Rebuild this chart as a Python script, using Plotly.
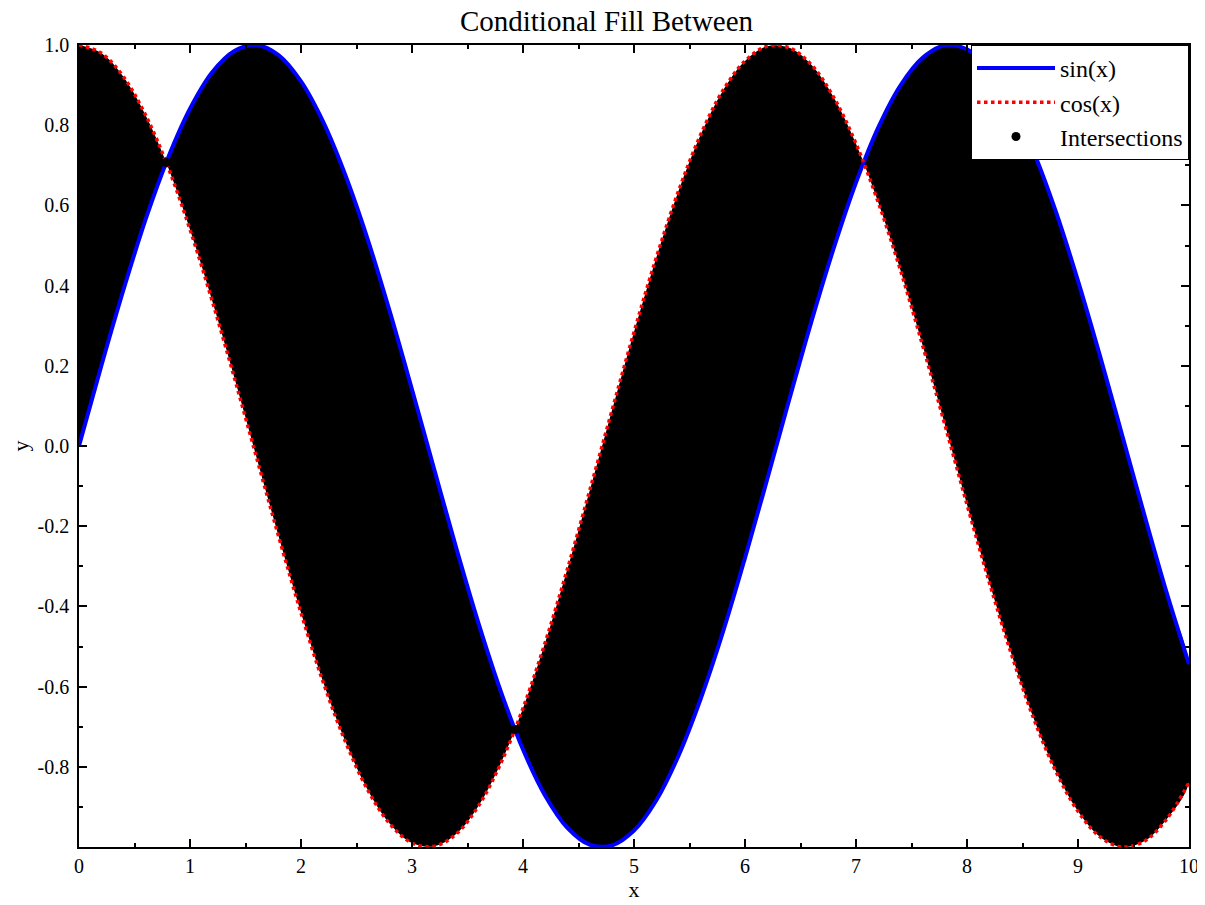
import plotly.graph_objects as go

# valeurs (pas de 0.2)
x = [0.0, 0.2, 0.4, 0.6, 0.8, 1.0, 1.2, 1.4, 1.6, 1.8,
     2.0, 2.2, 2.4, 2.6, 2.8, 3.0, 3.2, 3.4, 3.6, 3.8,
     4.0, 4.2, 4.4, 4.6, 4.8, 5.0, 5.2, 5.4, 5.6, 5.8,
     6.0, 6.2, 6.4, 6.6, 6.8, 7.0, 7.2, 7.4, 7.6, 7.8,
     8.0, 8.2, 8.4, 8.6, 8.8, 9.0, 9.2, 9.4, 9.6, 9.8, 10.0]
sin_y = [0.000, 0.199, 0.389, 0.565, 0.717, 0.841, 0.932, 0.985, 1.000, 0.974,
         0.909, 0.808, 0.675, 0.516, 0.335, 0.141, -0.058, -0.256, -0.443, -0.612,
         -0.757, -0.872, -0.952, -0.994, -0.996, -0.959, -0.884, -0.773, -0.631, -0.465,
         -0.279, -0.083, 0.117, 0.312, 0.494, 0.657, 0.794, 0.899, 0.968, 0.999,
         0.989, 0.941, 0.855, 0.734, 0.585, 0.412, 0.223, 0.025, -0.174, -0.367, -0.544]
cos_y = [1.000, 0.980, 0.921, 0.825, 0.697, 0.540, 0.362, 0.170, -0.029, -0.227,
         -0.416, -0.589, -0.737, -0.857, -0.942, -0.990, -0.998, -0.967, -0.897, -0.791,
         -0.654, -0.490, -0.307, -0.112, 0.087, 0.284, 0.469, 0.635, 0.776, 0.886,
         0.960, 0.997, 0.993, 0.950, 0.869, 0.754, 0.608, 0.439, 0.251, 0.054,
         -0.146, -0.339, -0.519, -0.679, -0.811, -0.911, -0.975, -1.000, -0.985, -0.930, -0.839]
inter_x = [0.785, 3.927]
inter_y = [0.707, -0.707]

y_tickvals = [1.0, 0.8, 0.6, 0.4, 0.2, 0.0, -0.2, -0.4, -0.6, -0.8]
y_ticktext = ["1.0", "0.8", "0.6", "0.4", "0.2", "0.0", "-0.2", "-0.4", "-0.6", "-0.8"]
x_tickvals = [0, 1, 2, 3, 4, 5, 6, 7, 8, 9, 10]

SERIF = "Liberation Serif, Times New Roman, serif"

fig = go.Figure()
# zone remplie entre les deux courbes
fig.add_trace(go.Scatter(x=x + x[::-1], y=sin_y + cos_y[::-1], mode="lines",
    fill="toself", fillcolor="black", line=dict(width=0, color="black", shape="spline"),
    showlegend=False, hoverinfo="skip"))
fig.add_trace(go.Scatter(x=x, y=sin_y, mode="lines", name="sin(x)", legendgroup="a",
    line=dict(color="blue", width=4, shape="spline")))
fig.add_trace(go.Scatter(x=x, y=cos_y, mode="lines", name="cos(x)", legendgroup="b",
    line=dict(color="red", width=3.5, dash="dot", shape="spline")))
fig.add_trace(go.Scatter(x=inter_x, y=inter_y, mode="markers", name="Intersections",
    legendgroup="c", marker=dict(color="black", size=9)))

axis_common = dict(showline=True, linecolor="black", linewidth=1.5, mirror="ticks",
    ticks="inside", ticklen=8, tickwidth=1.5, tickcolor="black", showgrid=False,
    zeroline=False, automargin=False,
    tickfont=dict(family=SERIF, size=20, color="black"))

fig.update_layout(
    width=1197, height=897,
    paper_bgcolor="white", plot_bgcolor="white",
    margin=dict(l=71, r=16, t=37, b=58),
    title=dict(text="Conditional Fill Between", x=0.5, xanchor="center",
               y=0.986, yanchor="middle",
               font=dict(family=SERIF, size=29, color="black")),
    xaxis=dict(range=[0, 10], tickmode="array", tickvals=x_tickvals,
               minor=dict(tickmode="linear", tick0=0, dtick=0.5, ticks="inside",
                          ticklen=4, tickcolor="black", tickwidth=1.5),
               title=dict(text="x", font=dict(family=SERIF, size=22, color="black"),
                          standoff=4),
               **axis_common),
    yaxis=dict(range=[-1, 1], tickmode="array", tickvals=y_tickvals, ticktext=y_ticktext,
               ticklabelstandoff=4,
               minor=dict(tickmode="linear", tick0=0, dtick=0.1, ticks="inside",
                          ticklen=4, tickcolor="black", tickwidth=1.5),
               title=dict(text="y", font=dict(family=SERIF, size=22, color="black"),
                          standoff=29),
               **axis_common),
    legend=dict(x=1, y=1, xanchor="right", yanchor="top", bgcolor="white",
                bordercolor="black", borderwidth=1, tracegroupgap=0, itemwidth=78,
                font=dict(family=SERIF, size=24, color="black")),
    showlegend=True,
)

fig.write_html("out.html")
